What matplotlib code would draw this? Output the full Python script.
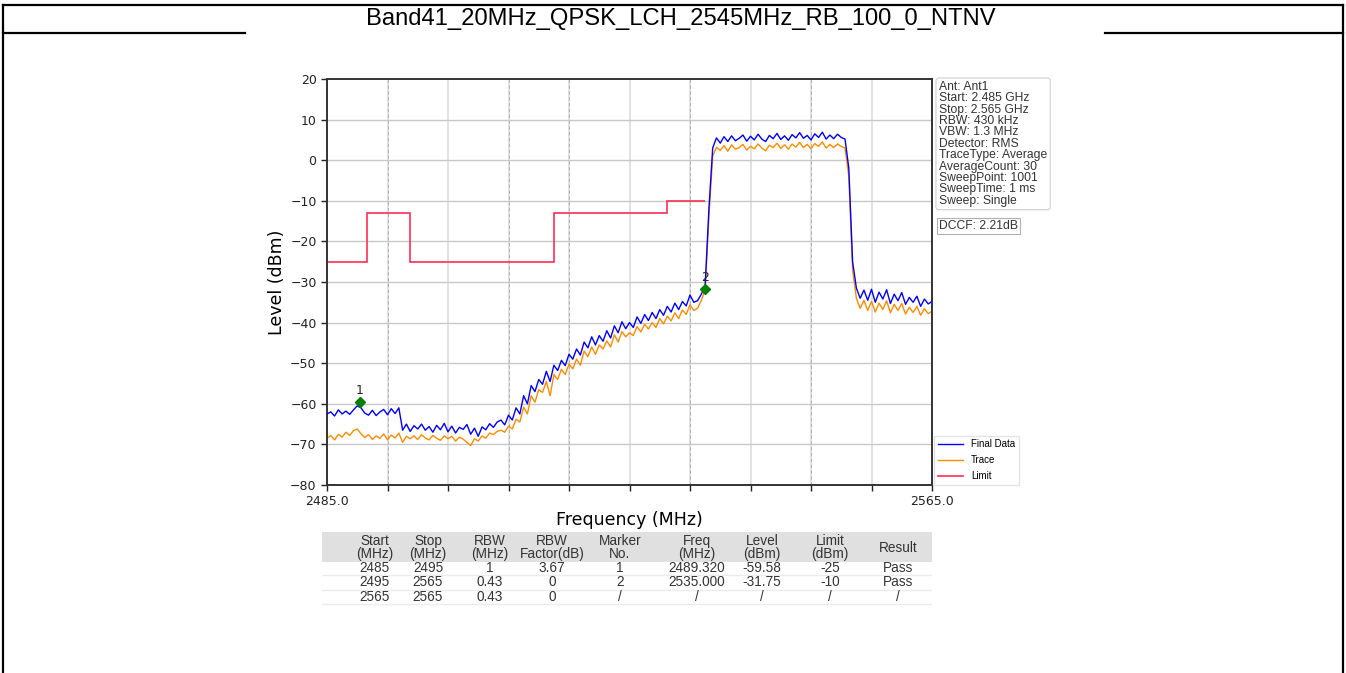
import numpy as np
import matplotlib
matplotlib.use("Agg")
import matplotlib.pyplot as plt
from matplotlib.patches import Rectangle

title = "Band41_20MHz_QPSK_LCH_2545MHz_RB_100_0_NTNV"

# sweep, 0.5 MHz steps from 2485 to 2565 MHz
f_start, f_stop = 2485.0, 2565.0
final_data = [
    -62.5, -62.0, -63.0, -61.5, -62.5, -61.8, -62.6, -61.5, -60.5, -61.0, -62.3,
    -62.8, -61.6, -62.9, -62.0, -61.4, -62.7, -61.2, -62.4, -61.0, -66.5, -65.0,
    -66.8, -65.4, -66.2, -65.0, -66.5, -65.6, -67.0, -65.3, -66.4, -64.8, -66.9,
    -65.5, -67.2, -65.8, -66.3, -65.1, -67.5, -66.0, -68.0, -65.7, -66.4, -64.9,
    -65.8, -64.5,
    -64.0, -65.2, -62.8, -64.0, -61.0, -62.5, -58.0, -60.0, -55.5, -57.0, -54.0,
    -55.2, -52.0, -54.5, -50.5, -51.8, -49.3, -50.6, -47.8, -49.0, -46.5, -48.0,
    -44.8, -46.2, -43.5, -45.5, -43.2, -44.6, -42.0, -43.8, -40.8, -42.5, -39.8,
    -41.5, -40.0, -41.2, -38.6, -40.2, -38.0, -39.5, -37.5, -39.0, -36.8, -38.2,
    -36.0, -37.4, -35.2, -36.8, -34.8, -35.9, -33.2, -35.0, -34.6, -33.0,
    -31.0, -12.0, 3.0, 5.5, 4.2, 5.8, 4.6, 6.0, 4.8, 5.4, 6.2, 4.7, 5.9, 5.0,
    6.4, 5.2, 4.6, 6.1, 5.3, 6.6, 5.1, 6.0, 4.9, 6.3, 5.5, 6.8, 5.4, 6.1, 5.0,
    6.5, 5.6, 6.9, 5.2, 6.2, 5.3, 6.4, 5.6, 5.2,
    -2.0, -25.0, -31.5, -34.0, -32.0, -34.5, -31.8, -35.0, -32.5, -34.2, -31.9,
    -35.3, -33.0, -34.6, -32.6, -35.5, -33.8, -35.0, -33.5, -36.0, -34.2, -35.4,
    -34.8,
]
trace = [
    -68.5, -67.8, -68.9, -67.5, -68.2, -67.0, -67.8, -66.6, -66.2, -67.4, -68.3,
    -67.6, -68.8, -67.9, -68.5, -67.4, -68.9, -67.7, -68.4, -67.2, -69.5, -68.0,
    -68.6, -67.9, -68.8, -67.6, -68.4, -68.9, -67.8, -68.5, -69.0, -67.9, -68.6,
    -68.0, -69.2, -68.2, -68.7, -69.5, -70.3, -68.6, -69.2, -67.9, -68.5, -67.2,
    -67.6, -66.8,
    -66.5, -67.0, -65.5, -66.2, -63.8, -64.5, -60.8, -62.5, -58.0, -59.6, -56.5,
    -57.2, -54.5, -58.0, -52.8, -54.0, -51.5, -52.8, -50.2, -51.4, -49.0, -50.5,
    -47.0, -48.4, -46.0, -47.8, -45.5, -46.5, -44.5, -46.0, -43.0, -44.8, -42.2,
    -43.5, -42.5, -43.2, -41.0, -42.3, -40.4, -41.6, -40.0, -41.2, -39.0, -40.3,
    -38.4, -39.6, -37.6, -39.0, -36.9, -38.0, -35.6, -37.0, -36.5, -34.5,
    -32.0, -14.0, 1.0, 3.2, 2.4, 3.6, 2.2, 3.8, 2.7, 3.1, 3.9, 2.5, 3.4, 2.8,
    4.0, 3.0, 2.3, 3.7, 3.1, 4.2, 2.9, 3.8, 2.7, 4.0, 3.2, 4.4, 3.1, 3.9, 2.8,
    4.1, 3.4, 4.5, 3.0, 3.9, 3.1, 4.0, 3.4, 3.0,
    -4.0, -27.0, -34.0, -36.5, -34.5, -37.0, -34.8, -37.4, -35.2, -36.8, -34.6,
    -37.6, -35.5, -37.0, -35.3, -37.9, -36.2, -37.5, -36.0, -38.2, -36.6, -37.8,
    -37.2,
]

# limit mask edges (MHz) and levels (dBm)
limit_edges = [2485.0, 2490.3, 2496.0, 2515.0, 2530.0, 2535.0]
limit_levels = [-25, -13, -25, -13, -10]

marker_no = ["1", "2"]
marker_freq = [2489.320, 2535.000]
marker_level = [-59.58, -31.75]

info_lines = ["Ant: Ant1", "Start: 2.485 GHz", "Stop: 2.565 GHz", "RBW: 430 kHz",
              "VBW: 1.3 MHz", "Detector: RMS", "TraceType: Average",
              "AverageCount: 30", "SweepPoint: 1001", "SweepTime: 1 ms",
              "Sweep: Single"]
dccf = "DCCF: 2.21dB"

col_labels = ["Start\n(MHz)", "Stop\n(MHz)", "RBW\n(MHz)", "RBW\nFactor(dB)",
              "Marker\nNo.", "Freq\n(MHz)", "Level\n(dBm)", "Limit\n(dBm)", "Result"]
table_rows = [
    ["2485", "2495", "1", "3.67", "1", "2489.320", "-59.58", "-25", "Pass"],
    ["2495", "2565", "0.43", "0", "2", "2535.000", "-31.75", "-10", "Pass"],
    ["2565", "2565", "0.43", "0", "/", "/", "/", "/", "/"],
]

W, H = 1346, 673
sans = ['Liberation Sans', 'DejaVu Sans']
fig = plt.figure(figsize=(W / 100, H / 100), dpi=100)

# page frame + title cell, in pixel units
bg = fig.add_axes([0, 0, 1, 1])
bg.set_xlim(0, W)
bg.set_ylim(H, 0)
bg.axis('off')
bg.plot([3, 3], [5, H], color='black', lw=1.6)
bg.plot([W - 3, W - 3], [5, H], color='black', lw=1.6)
bg.plot([3, W - 3], [5, 5], color='black', lw=1.6)
bg.plot([3, 245], [33, 33], color='black', lw=1.6)
bg.plot([1105, W - 3], [33, 33], color='black', lw=1.6)
bg.text(681, 19, title, ha='center', va='center', fontsize=17.1, family=sans)

# result table below the plot (added before the plot so the xlabel stays on top)
tx0, tx1, ty0, ty1 = 322, 932, 532, 606
tab = fig.add_axes([tx0 / W, (H - ty1) / H, (tx1 - tx0) / W, (ty1 - ty0) / H])
tab.set_xlim(tx0, tx1)
tab.set_ylim(ty1, ty0)
tab.axis('off')
col_x = [375, 428, 490, 552, 620, 697, 762, 830, 898]
row_y = [568, 582, 597]
tab.add_patch(Rectangle((tx0, ty0), tx1 - tx0, 30, color='#e0e0e0', lw=0))
for y in [575, 589.5, 604]:
    tab.plot([tx0, tx1], [y, y], color='#ececec', lw=1)
for c, x in zip(col_labels, col_x):
    tab.text(x, 547.5, c, ha='center', va='center', fontsize=9.8,
             linespacing=0.92, color='#333333', family=sans)
for r, y in zip(table_rows, row_y):
    for v, x in zip(r, col_x):
        tab.text(x, y, v, ha='center', va='center', fontsize=9.8,
                 color='#333333', family=sans)

# spectrum plot
ax = fig.add_axes([327 / W, (H - 485) / H, 605 / W, 406 / H])
freq = np.linspace(f_start, f_stop, len(final_data))

xt = np.arange(f_start, f_stop + 1, 8)
for x in xt[1:-1]:
    ax.axvline(x, color='#e2e2e2', lw=1.4, zorder=0)
for x in [2493, 2509, 2517, 2533, 2549]:
    ax.axvline(x, color='#a8a8a8', lw=0.6, ls=(0, (4, 3)), zorder=0)
for y in np.arange(-70, 20, 10):
    ax.axhline(y, color='#c8c8c8', lw=1.0, zorder=0)

ax.plot(freq, trace, color='darkorange', lw=1.0, label='Trace', zorder=2)
ax.plot(freq, final_data, color='blue', lw=1.0, label='Final Data', zorder=3)
ax.stairs(limit_levels, limit_edges, color='#ff2d55', lw=1.2, baseline=None,
          label='Limit', zorder=2)

ax.plot(marker_freq, marker_level, 'D', color='green', ms=5.5, zorder=4)
for n, fx, ly in zip(marker_no, marker_freq, marker_level):
    ax.annotate(n, (fx, ly), xytext=(0, 4), textcoords='offset points',
                ha='center', va='bottom', fontsize=9, color='#222222')

ax.set_xlim(f_start, f_stop)
ax.set_ylim(-80, 20)
ax.set_xticks(xt)
ax.set_xticklabels(['%.1f' % xt[0]] + [''] * (len(xt) - 2) + ['%.1f' % xt[-1]])
ax.set_yticks(np.arange(-80, 21, 10))
ax.tick_params(labelsize=9, length=4, width=1, colors='#222222')
for s in ax.spines.values():
    s.set_color('#333333')
    s.set_linewidth(1.4)
ax.set_xlabel('Frequency (MHz)', fontsize=12.5, labelpad=2)
ax.set_ylabel('Level (dBm)', fontsize=12.5, labelpad=3)

h, l = ax.get_legend_handles_labels()
order = [l.index('Final Data'), l.index('Trace'), l.index('Limit')]
leg = ax.legend([h[i] for i in order], [l[i] for i in order],
                loc='lower left', bbox_to_anchor=(1.003, 0.0),
                handlelength=2.6, frameon=True, fancybox=False,
                borderaxespad=0.0, labelspacing=0.6,
                prop={'family': sans, 'size': 7})
leg.get_frame().set_edgecolor('#dddddd')

fig.text(939 / W, 1 - 81 / H, "\n".join(info_lines), ha='left', va='top',
         fontsize=8.7, linespacing=0.93, color='#333333', family=sans,
         bbox=dict(boxstyle='round,pad=0.25', fc='white', ec='#d0d0d0', lw=0.8))
fig.text(939 / W, 1 - 226 / H, dccf, ha='left', va='center', fontsize=8.7,
         color='#333333', family=sans,
         bbox=dict(boxstyle='square,pad=0.2', fc='white', ec='#b0b0b0', lw=0.8))

fig.savefig('out.png', dpi=100)
